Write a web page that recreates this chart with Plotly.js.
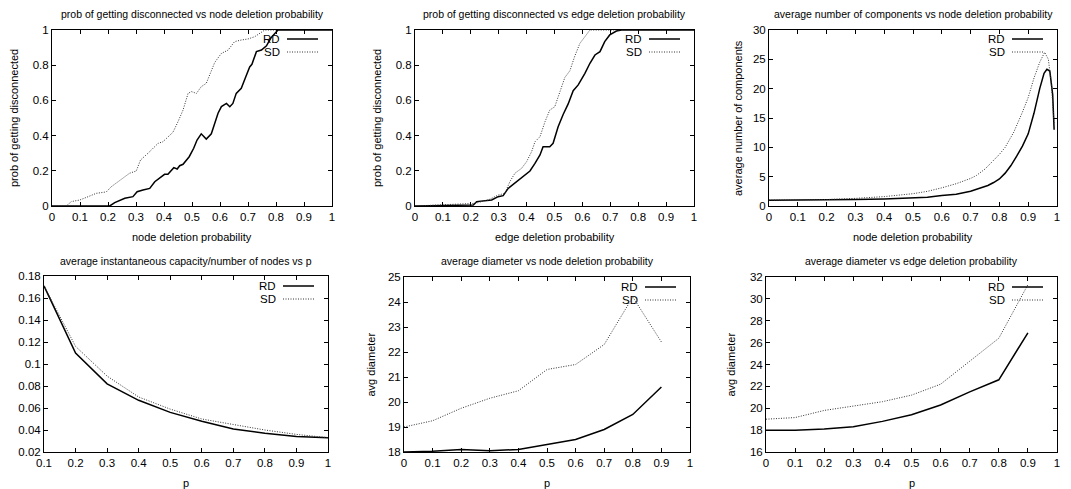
<!DOCTYPE html>
<html>
<head>
<meta charset="utf-8">
<script src="https://cdn.plot.ly/plotly-3.0.1.min.js"></script>
<style>
html,body{margin:0;padding:0;background:#fff;}
#chart{width:1071px;height:489px;}
</style>
</head>
<body>
<div id="chart"></div>
<script>
// ---------- Data ----------
const seriesNames = ["RD", "SD"];

// Panel 1: prob of getting disconnected vs node deletion probability
const nodeDiscRdX = [0, 0.206, 0.224, 0.248, 0.26, 0.289, 0.304, 0.325, 0.349, 0.367, 0.39, 0.402, 0.414, 0.435, 0.447, 0.456, 0.468, 0.49, 0.506, 0.518, 0.533, 0.551, 0.569, 0.581, 0.593, 0.605, 0.623, 0.635, 0.646, 0.658, 0.676, 0.69, 0.706, 0.714, 0.73, 0.748, 0.766, 0.781, 0.795, 0.807, 1.0];
const nodeDiscRdY = [0, 0, 0.019, 0.034, 0.044, 0.053, 0.081, 0.091, 0.10, 0.138, 0.167, 0.18, 0.18, 0.218, 0.21, 0.229, 0.237, 0.28, 0.328, 0.375, 0.41, 0.38, 0.41, 0.465, 0.527, 0.565, 0.583, 0.564, 0.583, 0.64, 0.669, 0.726, 0.79, 0.805, 0.877, 0.886, 0.91, 0.953, 0.981, 1.0, 1.0];
const nodeDiscSdX = [0, 0.051, 0.069, 0.099, 0.129, 0.158, 0.194, 0.212, 0.236, 0.26, 0.277, 0.301, 0.316, 0.343, 0.367, 0.379, 0.396, 0.414, 0.432, 0.45, 0.468, 0.486, 0.498, 0.516, 0.533, 0.551, 0.569, 0.581, 0.596, 0.605, 0.629, 0.652, 0.676, 0.70, 0.724, 0.748, 0.76, 1.0];
const nodeDiscSdY = [0, 0, 0.025, 0.034, 0.053, 0.072, 0.08, 0.11, 0.138, 0.167, 0.186, 0.199, 0.261, 0.30, 0.337, 0.356, 0.365, 0.394, 0.419, 0.479, 0.545, 0.64, 0.65, 0.64, 0.678, 0.697, 0.763, 0.815, 0.848, 0.867, 0.886, 0.934, 0.943, 0.949, 0.962, 0.987, 1.0, 1.0];

// Panel 2: prob of getting disconnected vs edge deletion probability
const edgeDiscRdX = [0, 0.143, 0.209, 0.221, 0.275, 0.298, 0.316, 0.334, 0.358, 0.376, 0.394, 0.412, 0.43, 0.448, 0.459, 0.483, 0.495, 0.513, 0.531, 0.549, 0.567, 0.585, 0.609, 0.627, 0.645, 0.663, 0.68, 0.698, 0.722, 0.74, 1.0];
const edgeDiscRdY = [0, 0.006, 0.006, 0.025, 0.034, 0.053, 0.059, 0.10, 0.129, 0.153, 0.176, 0.199, 0.242, 0.29, 0.337, 0.337, 0.356, 0.45, 0.52, 0.58, 0.655, 0.688, 0.754, 0.811, 0.858, 0.877, 0.934, 0.972, 0.994, 1.0, 1.0];
const edgeDiscSdX = [0, 0.143, 0.215, 0.262, 0.298, 0.322, 0.34, 0.358, 0.382, 0.40, 0.418, 0.43, 0.448, 0.466, 0.483, 0.501, 0.519, 0.537, 0.555, 0.573, 0.591, 0.609, 0.627, 1.0];
const edgeDiscSdY = [0, 0.01, 0.015, 0.034, 0.062, 0.072, 0.138, 0.186, 0.214, 0.252, 0.309, 0.365, 0.394, 0.479, 0.545, 0.564, 0.654, 0.73, 0.768, 0.853, 0.924, 0.962, 1.0, 1.0];

// Panel 3: average number of components vs node deletion probability
const compRdX = [0, 0.1, 0.2, 0.3, 0.4, 0.5, 0.55, 0.6, 0.65, 0.7, 0.72, 0.74, 0.76, 0.78, 0.8, 0.82, 0.84, 0.86, 0.88, 0.9, 0.92, 0.94, 0.955, 0.965, 0.975, 0.985, 0.99];
const compRdY = [1.0, 1.0, 1.05, 1.1, 1.2, 1.35, 1.5, 1.8, 2.0, 2.5, 2.8, 3.2, 3.5, 4.0, 4.6, 5.6, 6.9, 8.5, 10.2, 12.3, 15.8, 20.0, 22.6, 23.3, 23.0, 19.0, 13.0];
const compSdX = [0, 0.1, 0.2, 0.3, 0.4, 0.5, 0.55, 0.6, 0.65, 0.7, 0.72, 0.75, 0.78, 0.8, 0.82, 0.85, 0.88, 0.9, 0.92, 0.94, 0.957, 0.97, 0.98, 0.99];
const compSdY = [1.0, 1.05, 1.1, 1.3, 1.6, 2.1, 2.5, 3.1, 3.8, 4.7, 5.2, 6.3, 7.7, 8.8, 10.0, 12.6, 16.0, 18.5, 21.8, 24.5, 26.2, 25.0, 21.0, 14.0];

// Panel 4: average instantaneous capacity/number of nodes vs p
const capX = [0.1, 0.2, 0.3, 0.4, 0.5, 0.6, 0.7, 0.8, 0.9, 1.0];
const capRdY = [0.171, 0.110, 0.082, 0.067, 0.056, 0.048, 0.041, 0.037, 0.034, 0.033];
const capSdY = [0.171, 0.116, 0.089, 0.070, 0.059, 0.050, 0.045, 0.040, 0.036, 0.033];

// Panel 5: average diameter vs node deletion probability
const diamX = [0, 0.1, 0.2, 0.3, 0.4, 0.5, 0.6, 0.7, 0.8, 0.9];
const diamNodeRdY = [18.0, 18.03, 18.1, 18.05, 18.1, 18.3, 18.5, 18.9, 19.5, 20.6];
const diamNodeSdY = [19.0, 19.25, 19.75, 20.15, 20.45, 21.3, 21.5, 22.3, 24.2, 22.4];

// Panel 6: average diameter vs edge deletion probability
const diamEdgeRdY = [18.0, 18.0, 18.1, 18.3, 18.8, 19.4, 20.3, 21.5, 22.6, 26.9];
const diamEdgeSdY = [19.0, 19.15, 19.8, 20.2, 20.6, 21.2, 22.2, 24.3, 26.4, 31.3];

const panelTitles = [
  "prob of getting disconnected vs node deletion probability",
  "prob of getting disconnected vs edge deletion probability",
  "average number of components vs node deletion probability",
  "average instantaneous capacity/number of nodes vs p",
  "average diameter vs node deletion probability",
  "average diameter vs edge deletion probability"
];
const xTitles = ["node deletion probability", "edge deletion probability", "node deletion probability", "p", "p", "p"];
const yTitles = ["prob of getting disconnected", "prob of getting disconnected", "average number of components", "", "avg diameter", "avg diameter"];

// ---------- Layout geometry (pixels) ----------
const W = 1071, H = 489;
const panels = [
  {l: 52, r: 332, t: 30, b: 206, xr: [0, 1], yr: [0, 1], dy: 0.2, ytx: 14},
  {l: 415, r: 694, t: 30, b: 206, xr: [0, 1], yr: [0, 1], dy: 0.2, ytx: 377},
  {l: 769, r: 1057, t: 30, b: 206, xr: [0, 1], yr: [0, 30], dy: 5, ytx: 738},
  {l: 44, r: 328, t: 276, b: 452, xr: [0.1, 1], yr: [0.02, 0.18], dy: 0.02, ytx: 0},
  {l: 404, r: 690, t: 277, b: 452, xr: [0, 1], yr: [18, 25], dy: 1, ytx: 370},
  {l: 766, r: 1057, t: 277, b: 452, xr: [0, 1], yr: [16, 32], dy: 2, ytx: 730}
];
const panelData = [
  [[nodeDiscRdX, nodeDiscRdY], [nodeDiscSdX, nodeDiscSdY]],
  [[edgeDiscRdX, edgeDiscRdY], [edgeDiscSdX, edgeDiscSdY]],
  [[compRdX, compRdY], [compSdX, compSdY]],
  [[capX, capRdY], [capX, capSdY]],
  [[diamX, diamNodeRdY], [diamX, diamNodeSdY]],
  [[diamX, diamEdgeRdY], [diamX, diamEdgeSdY]]
];

const FONT = "Liberation Sans, Arial, Helvetica, sans-serif";
const lineStyles = [
  {color: "#000000", width: 1.5, dash: "solid"},
  {color: "#333333", width: 1, dash: "1px,1.5px"}
];

const traces = [];
const layout = {
  width: W, height: H,
  margin: {l: 0, r: 0, t: 0, b: 0},
  paper_bgcolor: "#ffffff",
  plot_bgcolor: "#ffffff",
  showlegend: false,
  font: {family: FONT, size: 11, color: "#000"},
  annotations: [],
  shapes: []
};

panels.forEach((p, i) => {
  const n = i + 1;
  const xa = n === 1 ? "x" : "x" + n;
  const ya = n === 1 ? "y" : "y" + n;
  const xKey = n === 1 ? "xaxis" : "xaxis" + n;
  const yKey = n === 1 ? "yaxis" : "yaxis" + n;

  panelData[i].forEach((d, s) => {
    traces.push({
      type: "scatter", mode: "lines",
      x: d[0], y: d[1],
      name: seriesNames[s],
      xaxis: xa, yaxis: ya,
      line: lineStyles[s],
      hoverinfo: "skip"
    });
  });

  const common = {
    showgrid: false, zeroline: false,
    showline: true, linecolor: "#000", linewidth: 1, mirror: "allticks",
    ticks: "inside", ticklen: 4, tickwidth: 1, tickcolor: "#000",
    tickfont: {family: FONT, size: 11.5, color: "#000"},
    fixedrange: true
  };
  layout[xKey] = Object.assign({}, common, {
    domain: [p.l / W, p.r / W],
    range: p.xr, dtick: 0.1, tick0: 0,
    anchor: ya
  });
  layout[yKey] = Object.assign({}, common, {
    domain: [1 - p.b / H, 1 - p.t / H],
    range: p.yr, dtick: p.dy, tick0: p.yr[0],
    anchor: xa
  });

  const cx = (p.l + p.r) / 2;
  const cy = (p.t + p.b) / 2;
  // panel title
  layout.annotations.push({
    text: panelTitles[i], xref: "paper", yref: "paper",
    x: cx / W, y: 1 - (i < 3 ? 14 : 261) / H,
    xanchor: "center", yanchor: "middle", showarrow: false,
    font: {family: FONT, size: 10.5, color: "#000"}
  });
  // x axis title
  layout.annotations.push({
    text: xTitles[i], xref: "paper", yref: "paper",
    x: cx / W, y: 1 - (p.b + 31) / H,
    xanchor: "center", yanchor: "middle", showarrow: false,
    font: {family: FONT, size: 11, color: "#000"}
  });
  // y axis title
  if (yTitles[i]) {
    layout.annotations.push({
      text: yTitles[i], xref: "paper", yref: "paper",
      x: p.ytx / W, y: 1 - cy / H, textangle: -90,
      xanchor: "center", yanchor: "middle", showarrow: false,
      font: {family: FONT, size: 11, color: "#000"}
    });
  }
  // gnuplot-style key: text then line sample
  seriesNames.forEach((nm, s) => {
    const off = (i < 3 ? 9 : 10) + s * 13;
    layout.annotations.push({
      text: nm, xref: xa + " domain", yref: ya + " domain",
      x: 1, y: 1, xshift: -50, yshift: -off,
      xanchor: "right", yanchor: "middle", showarrow: false,
      font: {family: FONT, size: 11.5, color: "#000"}
    });
    layout.shapes.push({
      type: "line", xref: xa + " domain", yref: ya + " domain",
      xsizemode: "pixel", ysizemode: "pixel",
      xanchor: 1, yanchor: 1,
      x0: -45, x1: -14, y0: -off, y1: -off,
      line: lineStyles[s]
    });
  });
});

Plotly.newPlot("chart", traces, layout, {staticPlot: true, displayModeBar: false});
</script>
</body>
</html>
